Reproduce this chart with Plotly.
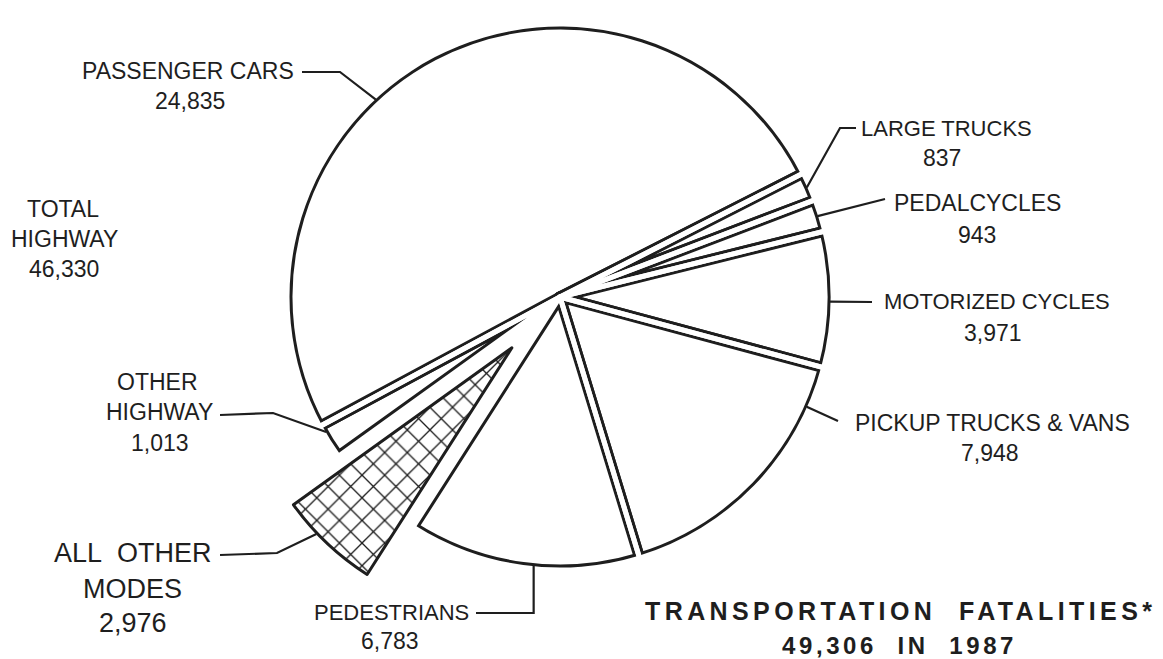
import math
import plotly.graph_objects as go

W, H = 1163, 659

# ---------------- data ----------------
categories = ["OTHER HIGHWAY", "PASSENGER CARS", "LARGE TRUCKS", "PEDALCYCLES",
              "MOTORIZED CYCLES", "PICKUP TRUCKS & VANS", "PEDESTRIANS", "ALL OTHER MODES"]
fatalities = [1013, 24835, 837, 943, 3971, 7948, 6783, 2976]
highway_flags = [True, True, True, True, True, True, True, False]
year = 1987
title_words = ["TRANSPORTATION", "FATALITIES*"]

total_all = sum(fatalities)
total_highway = sum(v for v, h in zip(fatalities, highway_flags) if h)

# ---------------- geometry / style ----------------
INK = "#1e1e1e"
FONT = "Liberation Sans, Arial, sans-serif"
rotation = 234.3            # start angle of first slice (clockwise from 12 o'clock)
C = (560.0, 297.0)          # pie centre in px
R_vis = 269.0               # radius of drawn outline
gap = 5.0                   # white gap between slices
t = 3.0                     # outline width
Wb = gap + 2 * t
r1 = R_vis + Wb / 2 - t / 2
r2 = r1 + 20
r_mask = r1 + Wb / 2 + 3
hole = (r1 - Wb / 2 + t) / r_mask
pull_other = 0.26           # explode fraction for non-highway slice

n = len(fatalities)
iA = n - 1                  # index of "all other modes"

starts, ends = [], []
a = rotation
for v in fatalities:
    starts.append(a)
    a += 360.0 * v / total_all
    ends.append(a)
mids = [(s + e) / 2 for s, e in zip(starts, ends)]


def pt(c, r, ang):
    return (c[0] + r * math.sin(math.radians(ang)), c[1] - r * math.cos(math.radians(ang)))


def dom(c, r):
    return dict(x=[(c[0] - r) / W, (c[0] + r) / W], y=[1 - (c[1] + r) / H, 1 - (c[1] - r) / H])


C_aom = pt(C, pull_other * R_vis, mids[iA])

common = dict(values=fatalities, labels=categories, sort=False, direction="clockwise",
              rotation=rotation, textinfo="none", hoverinfo="skip", showlegend=False)

fig = go.Figure()
# layer 1: white slices with thick dark outline
fig.add_trace(go.Pie(**common, domain=dom(C, r1),
                     marker=dict(colors=["white"] * n,
                                 line=dict(color=[INK] * (n - 1) + ["white"],
                                           width=[Wb] * (n - 1) + [0]))))
# layer 2: white strokes to open gaps between slices
fig.add_trace(go.Pie(**common, domain=dom(C, r2),
                     marker=dict(colors=["rgba(0,0,0,0)"] * n,
                                 line=dict(color="white", width=[gap] * (n - 1) + [0]))))
# layer 3: white ring trimming outer part of the rim stroke
fig.add_trace(go.Pie(**common, domain=dom(C, r_mask), hole=hole,
                     marker=dict(colors=["white"] * n, line=dict(width=0))))
# layer 4: exploded cross-hatched slice
fig.add_trace(go.Pie(**common, domain=dom(C_aom, R_vis),
                     marker=dict(colors=["rgba(0,0,0,0)"] * (n - 1) + ["white"],
                                 line=dict(color=INK, width=[0] * (n - 1) + [t]),
                                 pattern=dict(shape=[""] * (n - 1) + ["x"], size=16,
                                              solidity=0.16, fgcolor=INK, bgcolor="white",
                                              fillmode="replace"))))

# ---------------- labels ----------------
def fmt(v):
    return f"{v:,}"

ann = []
def txt(s, x, y, size=23, bold=False, ls=None):
    if ls:
        s = f'<span style="letter-spacing:{ls}px">{s}</span>'
    ann.append(dict(text=s, x=x / W, y=1 - y / H, xref="paper", yref="paper",
                    xanchor="center", yanchor="middle", showarrow=False,
                    font=dict(family=FONT, size=size, color=INK,
                              weight="bold" if bold else "normal")))

shapes = []
def leader(points):
    d = "M " + " L ".join(f"{px / W:.5f},{1 - py / H:.5f}" for px, py in points)
    shapes.append(dict(type="path", path=d, xref="paper", yref="paper",
                       line=dict(color=INK, width=2.2)))

idx = {c: i for i, c in enumerate(categories)}
Rl = R_vis + 1

# passenger cars
i = idx["PASSENGER CARS"]
txt(categories[i], 188, 71); txt(fmt(fatalities[i]), 190, 101)
leader([(302, 72), (340, 72), pt(C, Rl, 317)])
# large trucks
i = idx["LARGE TRUCKS"]
txt(categories[i], 946, 128, size=22); txt(fmt(fatalities[i]), 942, 158)
leader([(856, 128), (840, 128), pt(C, Rl, mids[i])])
# pedalcycles
i = idx["PEDALCYCLES"]
txt(categories[i], 977, 203); txt(fmt(fatalities[i]), 977, 235)
leader([(885, 199), pt(C, Rl, mids[i])])
# motorized cycles
i = idx["MOTORIZED CYCLES"]
txt(categories[i], 997, 302, size=22); txt(fmt(fatalities[i]), 993, 333)
leader([(872, 302), pt(C, Rl, 91)])
# pickup trucks & vans
i = idx["PICKUP TRUCKS & VANS"]
txt(categories[i].replace("&", "&amp;").replace(" & ", "\u00a0\u00a0&amp;\u00a0\u00a0"), 992, 423)
txt(fmt(fatalities[i]), 990, 453)
leader([(838, 421), pt(C, Rl, 114)])
# pedestrians
i = idx["PEDESTRIANS"]
txt(categories[i], 391, 612, size=22); txt(fmt(fatalities[i]), 390, 641)
pp = pt(C, Rl, 185.6)
leader([(476, 613), (pp[0], 613), pp])
# other highway
i = idx["OTHER HIGHWAY"]
w1, w2 = categories[i].split(" ")
txt(w1, 157, 382); txt(w2, 159, 412); txt(fmt(fatalities[i]), 160, 443)
leader([(220, 415), (273, 413), pt(C, Rl, 240)])
# all other modes
i = idx["ALL OTHER MODES"]
txt("ALL\u00a0\u00a0OTHER", 133, 553, size=27); txt("MODES", 132, 589, size=27)
txt(fmt(fatalities[i]), 133, 623, size=27)
leader([(220, 555), (277, 553), pt(C_aom, Rl, 226.4)])
# total highway
txt("TOTAL", 63, 209); txt("HIGHWAY", 64, 239); txt(fmt(total_highway), 64, 269)

# title
txt("\u00a0\u00a0".join(title_words), 900, 611, size=25, bold=True, ls=4.4)
txt(f"{fmt(total_all)}\u00a0\u00a0IN\u00a0\u00a0{year}", 899, 645, size=24, bold=True, ls=3.6)

fig.update_layout(width=W, height=H, margin=dict(l=0, r=0, t=0, b=0),
                  paper_bgcolor="white", plot_bgcolor="white",
                  annotations=ann, shapes=shapes, showlegend=False)

fig.write_html("out.html", config={"displayModeBar": False},
               post_script="document.body.style.margin='0px';document.body.style.overflow='hidden';")
